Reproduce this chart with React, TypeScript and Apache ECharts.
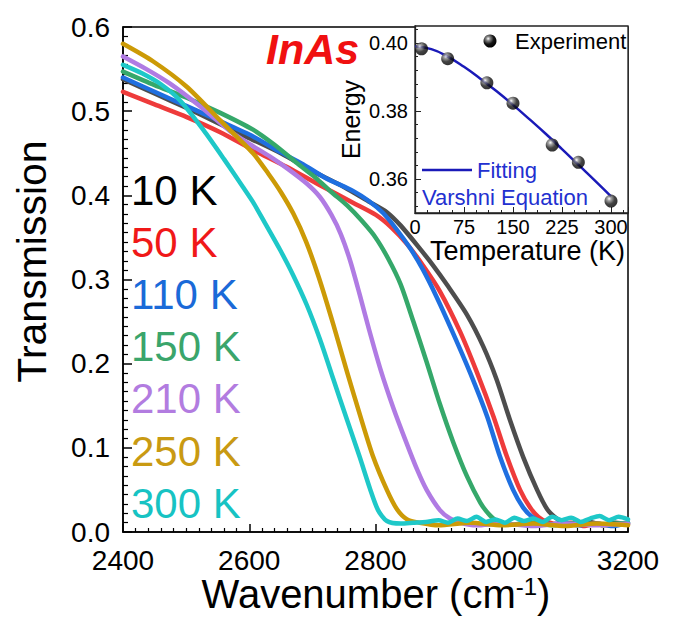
import React, { useEffect, useRef } from "react";
import * as echarts from "echarts";

// ---- Main chart data: [wavenumber (cm-1), transmission] ----
const labels = ["10 K", "50 K", "110 K", "150 K", "210 K", "250 K", "300 K"];
const lineColors = ["#4d4d4d", "#ee3b3b", "#1f6fe0", "#35a86a", "#b07be3", "#cc9a06", "#1ec8c8"];
const labelColors = ["#000000", "#f01818", "#1a6ad8", "#3aa56b", "#b27ce0", "#c99a12", "#17c3c3"];

const t10K = [[2400,0.538],[2450,0.521],[2500,0.504],[2550,0.486],[2600,0.468],[2650,0.450],[2700,0.429],[2750,0.410],[2791,0.392],[2818,0.380],[2840,0.364],[2870,0.337],[2892,0.316],[2913,0.294],[2945,0.258],[2971,0.220],[2992,0.181],[3013,0.133],[3034,0.089],[3056,0.050],[3072,0.027],[3087,0.016],[3100,0.011],[3120,0.009],[3140,0.012],[3160,0.008],[3180,0.011],[3200,0.009]];
const t50K = [[2400,0.523],[2450,0.508],[2501,0.493],[2554,0.475],[2606,0.454],[2659,0.434],[2712,0.412],[2765,0.391],[2800,0.377],[2825,0.362],[2850,0.342],[2875,0.317],[2902,0.286],[2934,0.238],[2961,0.189],[2987,0.137],[3008,0.090],[3029,0.050],[3045,0.029],[3058,0.018],[3072,0.012],[3090,0.009],[3110,0.011],[3130,0.007],[3150,0.010],[3170,0.008],[3200,0.010]];
const t110K = [[2400,0.540],[2450,0.523],[2501,0.506],[2554,0.488],[2606,0.470],[2650,0.451],[2685,0.437],[2720,0.421],[2765,0.405],[2790,0.393],[2812,0.379],[2833,0.360],[2855,0.337],[2875,0.312],[2897,0.279],[2923,0.236],[2950,0.189],[2977,0.137],[2997,0.090],[3018,0.050],[3034,0.029],[3048,0.018],[3062,0.012],[3080,0.009],[3100,0.011],[3120,0.008],[3150,0.010],[3175,0.007],[3200,0.011]];
const t150K = [[2400,0.547],[2450,0.531],[2501,0.516],[2554,0.498],[2606,0.478],[2640,0.460],[2676,0.438],[2705,0.421],[2730,0.404],[2755,0.388],[2778,0.370],[2800,0.350],[2820,0.325],[2840,0.294],[2860,0.250],[2881,0.202],[2902,0.152],[2923,0.107],[2945,0.066],[2966,0.035],[2981,0.020],[2995,0.012],[3020,0.009],[3050,0.011],[3080,0.008],[3110,0.010],[3150,0.009],[3200,0.011]];
const t210K = [[2400,0.565],[2437,0.550],[2474,0.533],[2520,0.507],[2570,0.476],[2600,0.461],[2633,0.446],[2660,0.432],[2691,0.414],[2712,0.398],[2730,0.377],[2745,0.354],[2760,0.322],[2775,0.282],[2790,0.240],[2808,0.193],[2828,0.148],[2848,0.108],[2866,0.074],[2881,0.050],[2902,0.026],[2918,0.016],[2935,0.011],[2960,0.008],[3000,0.010],[3050,0.007],[3100,0.010],[3150,0.008],[3200,0.010]];
const t250K = [[2400,0.580],[2448,0.559],[2501,0.529],[2554,0.489],[2606,0.450],[2630,0.426],[2650,0.404],[2670,0.378],[2690,0.345],[2710,0.303],[2733,0.247],[2755,0.190],[2775,0.140],[2796,0.090],[2818,0.050],[2834,0.027],[2850,0.015],[2870,0.011],[2900,0.008],[2950,0.011],[3000,0.008],[3050,0.010],[3100,0.007],[3150,0.010],[3200,0.008]];
const t300K = [[2400,0.555],[2430,0.545],[2460,0.532],[2490,0.513],[2527,0.478],[2560,0.443],[2590,0.410],[2606,0.392],[2625,0.367],[2649,0.335],[2669,0.306],[2691,0.270],[2712,0.229],[2733,0.182],[2755,0.133],[2775,0.089],[2791,0.052],[2804,0.026],[2818,0.013],[2840,0.010],[2860,0.011],[2880,0.012],[2900,0.014],[2915,0.011],[2930,0.016],[2945,0.013],[2960,0.018],[2975,0.012],[2990,0.015],[3005,0.011],[3020,0.017],[3035,0.013],[3050,0.016],[3065,0.012],[3080,0.018],[3095,0.014],[3110,0.017],[3125,0.012],[3140,0.016],[3155,0.019],[3170,0.014],[3185,0.018],[3200,0.015]];
const spectra = [t10K, t50K, t110K, t150K, t210K, t250K, t300K];

// ---- Inset data ----
const tempK = [10, 50, 110, 150, 210, 250, 300];
const energyExp = [0.3983, 0.3954, 0.3883, 0.3823, 0.37, 0.3649, 0.3535];
const fitT = [0, 25, 50, 75, 100, 125, 150, 175, 200, 225, 250, 275, 300];
const fitE = [0.399, 0.3982, 0.396, 0.393, 0.3895, 0.3858, 0.3818, 0.3776, 0.3733, 0.3688, 0.3642, 0.3596, 0.3549];
const insetYTicks = [0.36, 0.38, 0.4];
const insetYMinorTicks = [0.352, 0.356, 0.364, 0.368, 0.372, 0.376, 0.384, 0.388, 0.392, 0.396, 0.404];

const FF = "Arial, 'Liberation Sans', Helvetica, sans-serif";

const sphere = {
  type: "radial", x: 0.36, y: 0.32, r: 0.7,
  colorStops: [
    { offset: 0, color: "#ffffff" },
    { offset: 0.22, color: "#8a8a8a" },
    { offset: 0.6, color: "#151515" },
    { offset: 1, color: "#000000" },
  ],
};

export default function App() {
  const ref = useRef<HTMLDivElement>(null);
  useEffect(() => {
    if (!ref.current) return;
    const chart = echarts.init(ref.current, null, { renderer: "svg" });

    const mainSeries = spectra.map((d, i) => ({
      type: "line",
      name: labels[i],
      xAxisIndex: 0,
      yAxisIndex: 0,
      data: d,
      showSymbol: false,
      smooth: 0.25,
      z: 2,
      lineStyle: { color: lineColors[i], width: 4.5, join: "round", cap: "round" },
    }));

    const tempLabels = labels.map((t, i) => ({
      type: "text",
      x: 131,
      y: 190 + i * 52.2,
      z: 20,
      style: {
        text: t,
        fill: labelColors[i],
        font: `42px ${FF}`,
        verticalAlign: "middle",
        align: "left",
      },
    }));

    chart.setOption({
      animation: false,
      backgroundColor: "#fff",
      grid: [
        { left: 123, right: 55, top: 27, bottom: 85, show: true, borderColor: "#000", borderWidth: 1.5, z: 0, outerBoundsMode: "none", containLabel: false },
        { left: 415, right: 55, top: 26, bottom: 404, show: true, backgroundColor: "#fff", borderColor: "#222", borderWidth: 1.3, z: 5, outerBoundsMode: "none", containLabel: false },
      ],
      xAxis: [
        {
          type: "value", gridIndex: 0, min: 2400, max: 3200, interval: 200,
          axisLine: { show: true, lineStyle: { color: "#000", width: 1.5 } },
          axisTick: { inside: true, length: 8, lineStyle: { color: "#000", width: 1.5 } },
          minorTick: { show: true, splitNumber: 10, length: 4, lineStyle: { color: "#000", width: 1.2 } },
          axisLabel: { fontSize: 28, fontFamily: FF, color: "#000", margin: 14, formatter: (v: number) => String(v) },
          splitLine: { show: false },
        },
        {
          type: "value", gridIndex: 1, min: 0, max: 326, interval: 75,
          name: "Temperature (K)", nameLocation: "middle", nameGap: 22,
          nameTextStyle: { fontSize: 27, fontFamily: FF, color: "#000", padding: [0, 0, 0, 12] },
          axisLine: { show: true, lineStyle: { color: "#222", width: 1.3 } },
          axisTick: { inside: true, length: 6, lineStyle: { color: "#222" } },
          minorTick: { show: true, splitNumber: 4, length: 3, lineStyle: { color: "#222" } },
          axisLabel: { fontSize: 20, fontFamily: FF, color: "#000", margin: 4, formatter: (v: number) => String(v) },
          splitLine: { show: false },
          z: 6,
        },
      ],
      yAxis: [
        {
          type: "value", gridIndex: 0, min: 0, max: 0.6, interval: 0.1,
          name: "Transmission", nameLocation: "middle", nameGap: 71,
          nameTextStyle: { fontSize: 41, fontFamily: FF, color: "#000", padding: [0, 0, 0, 36] },
          axisLine: { show: true, lineStyle: { color: "#000", width: 1.5 } },
          axisTick: { inside: true, length: 9, lineStyle: { color: "#000", width: 1.5 } },
          minorTick: { show: true, splitNumber: 9, length: 5, lineStyle: { color: "#000", width: 1.2 } },
          axisLabel: { fontSize: 28, fontFamily: FF, color: "#000", margin: 13, formatter: (v: number) => v.toFixed(1) },
          splitLine: { show: false },
        },
        {
          type: "value", gridIndex: 1, min: 0.35, max: 0.405,
          name: "Energy", nameLocation: "middle", nameGap: 52,
          nameTextStyle: { fontSize: 25, fontFamily: FF, color: "#000" },
          axisLine: { show: true, lineStyle: { color: "#222", width: 1.3 } },
          axisTick: { inside: true, length: 6, customValues: insetYTicks, lineStyle: { color: "#222" } },
          axisLabel: { fontSize: 20, fontFamily: FF, color: "#000", margin: 7, customValues: insetYTicks, formatter: (v: number) => v.toFixed(2) },
          splitLine: { show: false },
          z: 6,
        },
        {
          type: "value", gridIndex: 1, min: 0.35, max: 0.405, position: "left",
          axisLine: { show: false },
          axisTick: { show: true, inside: true, length: 3, customValues: insetYMinorTicks, lineStyle: { color: "#222" } },
          axisLabel: { show: false },
          splitLine: { show: false },
          z: 6,
        },
      ],
      series: [
        ...mainSeries,
        {
          type: "line", name: "Fitting", xAxisIndex: 1, yAxisIndex: 1,
          data: fitT.map((t, i) => [t, fitE[i]]),
          showSymbol: false, smooth: true, z: 7,
          lineStyle: { color: "#1a1ab8", width: 2.5 },
        },
        {
          type: "scatter", name: "Experiment", xAxisIndex: 1, yAxisIndex: 1,
          data: tempK.map((t, i) => [t, energyExp[i]]),
          symbolSize: 13, z: 8,
          itemStyle: { color: sphere },
        },
      ],
      graphic: [
        ...tempLabels,
        {
          type: "text", x: 376, y: 594, z: 20,
          style: {
            text: "{a|Wavenumber (cm}{s|-1}{a|)}",
            align: "center",
            verticalAlign: "middle",
            rich: {
              a: { fontSize: 40, fontFamily: FF, fill: "#000", lineHeight: 40 },
              s: { fontSize: 24, fontFamily: FF, fill: "#000", verticalAlign: "top", lineHeight: 40 },
            },
          },
        },
        {
          type: "text", x: 266, y: 49, z: 20,
          style: { text: "InAs", fill: "#f01010", font: `italic bold 43px ${FF}`, verticalAlign: "middle", align: "left" },
        },
        { type: "circle", z: 20, shape: { cx: 490, cy: 41, r: 6.5 }, style: { fill: sphere } },
        {
          type: "text", x: 515, y: 41, z: 20,
          style: { text: "Experiment", fill: "#000", font: `22px ${FF}`, verticalAlign: "middle", align: "left" },
        },
        { type: "line", z: 20, shape: { x1: 422, y1: 170, x2: 472, y2: 170 }, style: { stroke: "#1a1ab8", lineWidth: 2.5 } },
        {
          type: "text", x: 477, y: 170, z: 20,
          style: { text: "Fitting", fill: "#2230d0", font: `22px ${FF}`, verticalAlign: "middle", align: "left" },
        },
        {
          type: "text", x: 422, y: 197, z: 20,
          style: { text: "Varshni Equation", fill: "#2230d0", font: `22px ${FF}`, verticalAlign: "middle", align: "left" },
        },
      ],
    });
    return () => chart.dispose();
  }, []);
  return <div ref={ref} style={{ width: 683, height: 617, position: "absolute", left: 0, top: 0 }} />;
}
